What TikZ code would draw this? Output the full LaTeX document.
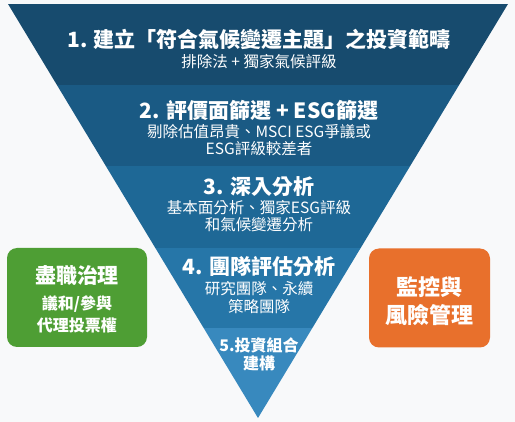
\documentclass[tikz,border=0pt]{standalone}
\usepackage{fontspec}
\setmainfont{Noto Sans CJK TC}
\definecolor{fond}{HTML}{F8F9FA}
\definecolor{bandeA}{HTML}{174B6E}
\definecolor{bandeB}{HTML}{1A5A84}
\definecolor{bandeC}{HTML}{1E6896}
\definecolor{bandeD}{HTML}{2676A8}
\definecolor{bandeE}{HTML}{3889BE}
\definecolor{vert}{HTML}{4E9E34}
\definecolor{orange}{HTML}{E8702C}
\begin{document}
\begin{tikzpicture}[x=1pt,y=-1pt]
    \tikzstyle{titre}=[text=white,inner sep=0pt,font=\fontsize{21}{24}\selectfont\bfseries]
    \tikzstyle{soustitre}=[text=white,inner sep=0pt,align=center,font=\fontsize{15.5}{17.5}\selectfont]
    \tikzstyle{petit}=[text=white,inner sep=0pt,align=center,font=\fontsize{16}{18}\selectfont\bfseries]
    \tikzstyle{boite}=[rounded corners=10pt,minimum width=140pt,minimum height=99pt,inner sep=0pt]
    \fill[fond] (0,0) rectangle (515,422);
    \useasboundingbox (0,0) rectangle (515,422);
    % entonnoir
    \begin{scope}
        \clip (8,4) -- (508,4) -- (258,418) -- cycle;
        \fill[bandeA] (0,4) rectangle (515,85);
        \fill[bandeB] (0,85) rectangle (515,166);
        \fill[bandeC] (0,166) rectangle (515,248);
        \fill[bandeD] (0,248) rectangle (515,328);
        \fill[bandeE] (0,328) rectangle (515,420);
    \end{scope}
    \node[titre] (1) at (259,39) {1. 建立「符合氣候變遷主題」之投資範疇};
    \node[soustitre] (2) at (259,62) {排除法 + 獨家氣候評級};
    \node[titre] (3) at (259,110) {2. 評價面篩選 + ESG篩選};
    \node[soustitre] (4) at (259,140) {剔除估值昂貴、MSCI ESG爭議或\\ESG評級較差者};
    \node[titre] (5) at (259,187) {3. 深入分析};
    \node[soustitre] (6) at (259,216) {基本面分析、獨家ESG評級\\和氣候變遷分析};
    \node[titre] (7) at (259,267) {4. 團隊評估分析};
    \node[soustitre] (8) at (259,297.5) {研究團隊、永續\\策略團隊};
    \node[petit] (9) at (259,354) {5.投資組合\\建構};
    % cotes
    \node[boite,fill=vert] (10) at (77,297.5) {};
    \node[titre] (11) at (77,276) {盡職治理};
    \node[petit,font=\fontsize{16}{22}\selectfont\bfseries] (12) at (77,314) {議和/參與\\代理投票權};
    \node[boite,fill=orange,minimum width=121pt] (13) at (429.5,298) {};
    \node[titre,align=center,font=\fontsize{22}{28}\selectfont\bfseries] (14) at (429.5,301) {監控與\\風險管理};
\end{tikzpicture}
\end{document}
